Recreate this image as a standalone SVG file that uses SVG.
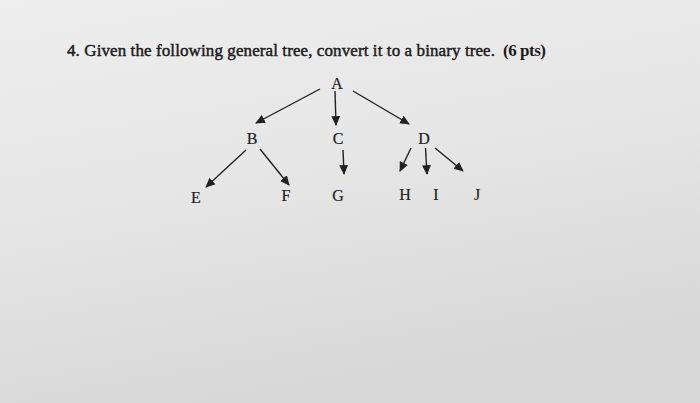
<svg xmlns="http://www.w3.org/2000/svg" width="700" height="403" viewBox="0 0 700 403">
<defs>
<linearGradient id="bg" x1="0" y1="0" x2="0.3" y2="1">
<stop offset="0" stop-color="#eeeeee"/>
<stop offset="0.5" stop-color="#e6e6e6"/>
<stop offset="1" stop-color="#d8d8d8"/>
</linearGradient>
<marker id="ah" viewBox="0 0 10 10" refX="9" refY="5" markerWidth="7" markerHeight="7" markerUnits="strokeWidth" orient="auto">
<path d="M0,0.5 L10,5 L0,9.5 z" fill="#222"/>
</marker>
<style>
.lbl{font-family:"Liberation Serif","Times New Roman",serif;font-size:16px;fill:#1e1e1e;text-anchor:middle;stroke:#1e1e1e;stroke-width:0.2}
.edge{stroke:#222;stroke-width:1.4;fill:none;marker-end:url(#ah)}
.title{font-family:"Liberation Serif","Times New Roman",serif;font-size:17px;fill:#1a1a1a}
</style>
</defs>
<rect width="700" height="403" fill="url(#bg)"/>
<text class="title" x="67" y="56"><tspan stroke="#1a1a1a" stroke-width="0.45" textLength="428">4. Given the following general tree, convert it to a binary tree.</tspan><tspan x="503" font-weight="bold" textLength="43">(6 pts)</tspan></text>
<g id="connectors">
<line class="edge" x1="320" y1="89" x2="256" y2="123"/>
<line class="edge" x1="335" y1="91" x2="336" y2="125"/>
<line class="edge" x1="353" y1="91" x2="409" y2="124"/>
<line class="edge" x1="246" y1="150" x2="206" y2="187"/>
<line class="edge" x1="260" y1="149" x2="289" y2="185"/>
<line class="edge" x1="343" y1="150" x2="344" y2="174"/>
<line class="edge" x1="411" y1="148" x2="400" y2="171"/>
<line class="edge" x1="425.5" y1="148" x2="427" y2="174"/>
<line class="edge" x1="435" y1="148" x2="463" y2="171"/>
</g>
<g id="node-A"><text class="lbl" x="337" y="89">A</text></g>
<g id="node-B"><text class="lbl" x="252" y="144">B</text></g>
<g id="node-C"><text class="lbl" x="338" y="144">C</text></g>
<g id="node-D"><text class="lbl" x="424" y="144">D</text></g>
<g id="node-E"><text class="lbl" x="196" y="203">E</text></g>
<g id="node-F"><text class="lbl" x="286" y="201">F</text></g>
<g id="node-G"><text class="lbl" x="338" y="201">G</text></g>
<g id="node-H"><text class="lbl" x="405" y="200">H</text></g>
<g id="node-I"><text class="lbl" x="436" y="200">I</text></g>
<g id="node-J"><text class="lbl" x="477" y="200">J</text></g>
</svg>
